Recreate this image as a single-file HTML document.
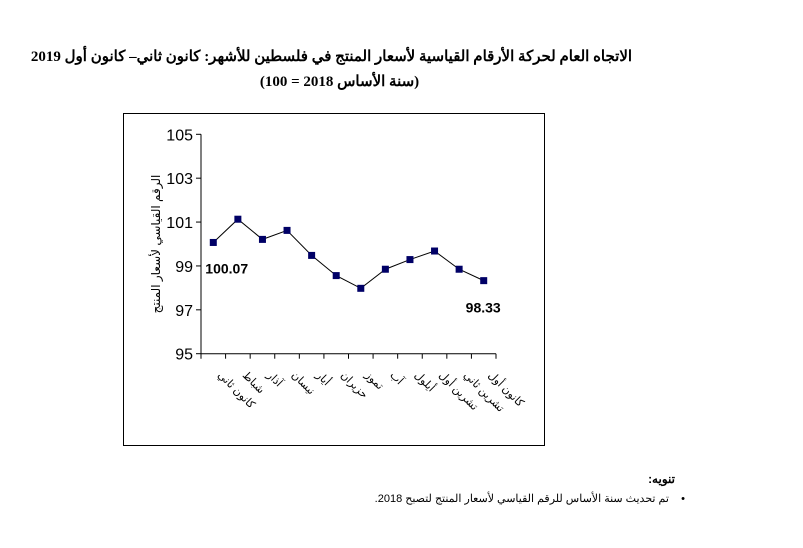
<!DOCTYPE html>
<html><head><meta charset="utf-8"><style>
body{margin:0;background:#fff;width:803px;height:548px;overflow:hidden;position:relative;font-family:"Liberation Serif","Noto Serif CJK SC",serif}
.t{position:absolute;left:0;width:803px;text-align:center;font-weight:bold;font-size:15px;direction:rtl}
</style></head><body>
<div class="t" style="top:47px;left:-70px">الاتجاه العام لحركة الأرقام القياسية لأسعار المنتج في فلسطين للأشهر: كانون ثاني– كانون أول 2019</div>
<div class="t" style="top:72px;left:-62px">(سنة الأساس 2018 = 100)</div>
<svg id="c" width="803" height="548" style="position:absolute;left:0;top:0">
<rect x="123.5" y="113.5" width="421" height="332" fill="none" stroke="#000"/>
</svg>
<div style="position:absolute;top:472px;right:128px;font-weight:bold;font-size:12px;font-family:'Liberation Sans',sans-serif;direction:rtl">تنويه:</div>
<div style="position:absolute;top:492px;right:118px;font-size:11px;font-family:'Liberation Sans',sans-serif;direction:rtl">•&nbsp;&nbsp;&nbsp; تم تحديث سنة الأساس للرقم القياسي لأسعار المنتج لتصبح 2018.</div>
<script>
const categories=["كانون ثاني","شباط","آذار","نيسان","أيار","حزيران","تموز","آب","أيلول","تشرين أول","تشرين ثاني","كانون أول"];
const values=[100.07,101.13,100.21,100.62,99.48,98.56,97.98,98.85,99.29,99.68,98.85,98.33];
const yTicks=[95,97,99,101,103,105];
const svg=document.getElementById('c');const NS='http://www.w3.org/2000/svg';
const x0=201,x1=496,yTop=134.3,yBot=353.7,ymin=95,ymax=105;
const bw=(x1-x0)/categories.length;
const X=i=>x0+bw*(i+0.5);
const Y=v=>yBot-(v-ymin)/(ymax-ymin)*(yBot-yTop);
function mk(t,a){const e=document.createElementNS(NS,t);for(const k in a)e.setAttribute(k,a[k]);svg.appendChild(e);return e;}
let e=mk('line',{x1:x0,y1:yTop,x2:x0,y2:yBot,stroke:'#000'});


e=mk('line',{x1:x0,y1:yBot,x2:x1,y2:yBot,stroke:'#000'});


yTicks.forEach(v=>{
 let t=mk('line',{x1:x0-5,y1:Y(v),x2:x0,y2:Y(v),stroke:'#000'});
 
 
 let l=mk('text',{x:x0-8,y:Y(v)+6,'text-anchor':'end','font-size':16,'font-family':'Liberation Sans,sans-serif'});
 l.textContent=v;
 
 
});
for(let i=0;i<=categories.length;i++){
 let t=mk('line',{x1:x0+bw*i,y1:yBot,x2:x0+bw*i,y2:yBot+5,stroke:'#000'});
 
 
}
categories.forEach((c,i)=>{
 const x=X(i)+4,y=yBot+22;
 let l=mk('text',{x:x,y:y,'font-size':11,'font-family':'Liberation Sans,DejaVu Sans,sans-serif',transform:`rotate(45 ${x} ${y})`});
 l.textContent=c;
 
 
});
let p=mk('polyline',{points:values.map((v,i)=>X(i)+','+Y(v)).join(' '),fill:'none',stroke:'#000','stroke-width':1});


values.forEach((v,i)=>{
 let r=mk('rect',{x:X(i)-3.5,y:Y(v)-3.5,width:7,height:7,fill:'#000066'});
 
 
});
let a=mk('text',{x:X(0)-8,y:Y(values[0])+31,'font-size':14,'font-weight':'bold','font-family':'Liberation Sans,sans-serif'});
a.textContent=values[0].toFixed(2);


const n=values.length-1;
a=mk('text',{x:X(n)+17,y:Y(values[n])+32,'text-anchor':'end','font-size':14,'font-weight':'bold','font-family':'Liberation Sans,sans-serif'});
a.textContent=values[n].toFixed(2);


a=mk('text',{x:0,y:0,'text-anchor':'middle','font-size':12,'font-family':'Liberation Sans,DejaVu Sans,sans-serif',transform:'translate(160 244) rotate(-90)'});
a.textContent='الرقم القياسي لأسعار المنتج';


</script>
</body></html>
